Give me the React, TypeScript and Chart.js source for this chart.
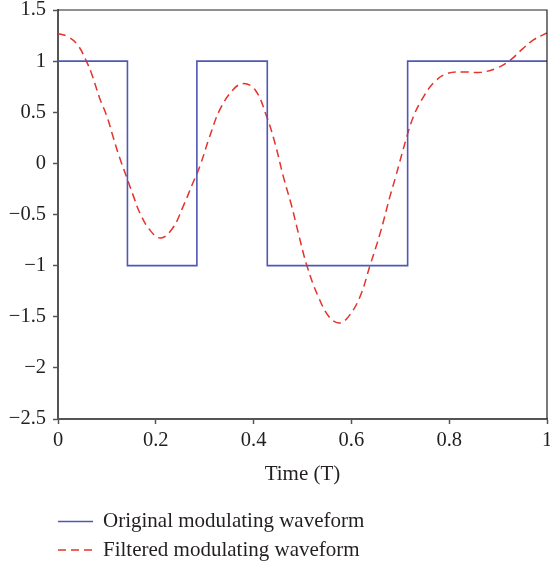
import React, { useEffect, useRef } from "react";
import { Chart, registerables } from "chart.js";

Chart.register(...registerables);

// ---- data ----
const squareTimes = [0, 0.142, 0.142, 0.284, 0.284, 0.428, 0.428, 0.715, 0.715, 1];
const squareValues = [1, 1, -1, -1, 1, 1, -1, -1, 1, 1];

const filteredTimes = [
  0, 0.02, 0.04, 0.058, 0.07, 0.085, 0.1, 0.112, 0.125, 0.14, 0.155, 0.167, 0.1875,
  0.21, 0.235, 0.256, 0.276, 0.29, 0.31, 0.331, 0.358, 0.379, 0.403, 0.4266, 0.4436,
  0.4607, 0.478, 0.4914, 0.509, 0.532, 0.556, 0.577, 0.597, 0.618, 0.638, 0.659, 0.679,
  0.69, 0.7135, 0.727, 0.744, 0.768, 0.7955, 0.83, 0.864, 0.898, 0.925, 0.95, 0.973, 1,
];
const filteredValues = [
  1.27, 1.24, 1.16, 1.0, 0.86, 0.64, 0.46, 0.27, 0.07, -0.13, -0.33, -0.48, -0.65,
  -0.73, -0.63, -0.42, -0.19, -0.03, 0.26, 0.525, 0.72, 0.78, 0.72, 0.46, 0.2,
  -0.127, -0.42, -0.68, -1.0, -1.3, -1.51, -1.56, -1.48, -1.3, -1.0, -0.68, -0.32,
  -0.14, 0.264, 0.46, 0.623, 0.787, 0.878, 0.894, 0.89, 0.933, 1.01, 1.12, 1.21, 1.275,
];

const seriesLabels = ["Original modulating waveform", "Filtered modulating waveform"];
const xTitle = "Time (T)";

const FONT = "'Liberation Serif', 'Times New Roman', serif";
const TEXT = "#231f20";
const AXIS = "#555555";

const fmt = (v: number) => {
  const n = Math.round(v * 10) / 10;
  return n < 0 ? "\u2212" + String(Math.abs(n)) : String(n);
};

const frameAndLegend = {
  id: "frameAndLegend",
  afterDraw(chart: any) {
    const { ctx, chartArea } = chart;
    ctx.save();
    // top and right frame
    ctx.strokeStyle = "#222";
    ctx.lineWidth = 1.2;
    ctx.beginPath();
    ctx.moveTo(chartArea.left, chartArea.top);
    ctx.lineTo(chartArea.right, chartArea.top);
    ctx.lineTo(chartArea.right, chartArea.bottom);
    ctx.stroke();
    // legend
    const rows = [521.5, 550];
    chart.data.datasets.forEach((ds: any, i: number) => {
      const y = rows[i];
      ctx.strokeStyle = ds.borderColor;
      ctx.lineWidth = ds.borderWidth;
      ctx.setLineDash(ds.borderDash || []);
      ctx.beginPath();
      ctx.moveTo(58, y);
      ctx.lineTo(93, y);
      ctx.stroke();
      ctx.setLineDash([]);
      ctx.fillStyle = TEXT;
      ctx.font = "21px " + FONT;
      ctx.textBaseline = "middle";
      ctx.textAlign = "left";
      ctx.fillText(ds.label, 103, y);
    });
    ctx.restore();
  },
};

export default function App() {
  const ref = useRef<HTMLCanvasElement | null>(null);
  useEffect(() => {
    if (!ref.current) return;
    const chart = new Chart(ref.current, {
      type: "line",
      data: {
        datasets: [
          {
            label: seriesLabels[0],
            data: squareTimes.map((t, i) => ({ x: t, y: squareValues[i] })),
            borderColor: "#4f58b3",
            borderWidth: 1.6,
            pointRadius: 0,
            tension: 0,
          },
          {
            label: seriesLabels[1],
            data: filteredTimes.map((t, i) => ({ x: t, y: filteredValues[i] })),
            borderColor: "#e5322b",
            borderWidth: 1.5,
            borderDash: [8, 5],
            pointRadius: 0,
            tension: 0.4,
          },
        ],
      },
      options: {
        animation: false,
        responsive: false,
        maintainAspectRatio: false,
        layout: { padding: { top: 10, right: 3, bottom: 80, left: 0 } },
        plugins: { legend: { display: false }, tooltip: { enabled: false } },
        scales: {
          x: {
            type: "linear",
            min: 0,
            max: 1,
            ticks: {
              stepSize: 0.2,
              callback: (v: any) => fmt(Number(v)),
              font: { family: FONT, size: 20.5 },
              color: TEXT,
              padding: 4,
              maxRotation: 0,
            },
            grid: { drawOnChartArea: false, drawTicks: true, tickLength: 5, color: AXIS, tickWidth: 1.5 },
            border: { display: true, color: AXIS, width: 2 },
            title: {
              display: true,
              text: xTitle,
              font: { family: FONT, size: 21 },
              color: TEXT,
              padding: { top: 0, bottom: 2 },
            },
            afterFit: (s: any) => {
              s.height = 70;
              s.paddingLeft = 0;
              s.paddingRight = 0;
            },
          },
          y: {
            type: "linear",
            min: -2.5,
            max: 1.5,
            ticks: {
              stepSize: 0.5,
              callback: (v: any) => fmt(Number(v)),
              font: { family: FONT, size: 20.5 },
              color: TEXT,
              padding: 7,
            },
            grid: { drawOnChartArea: false, drawTicks: true, tickLength: 5, color: AXIS, tickWidth: 1.5 },
            border: { display: true, color: AXIS, width: 2 },
            afterFit: (s: any) => {
              s.width = 58;
              s.paddingTop = 0;
              s.paddingBottom = 0;
            },
          },
        },
      },
      plugins: [frameAndLegend],
    } as any);
    return () => chart.destroy();
  }, []);
  return (
    <div style={{ position: "absolute", left: 0, top: 0, width: 550, height: 569 }}>
      <canvas ref={ref} width={550} height={569} style={{ width: 550, height: 569 }} />
    </div>
  );
}
